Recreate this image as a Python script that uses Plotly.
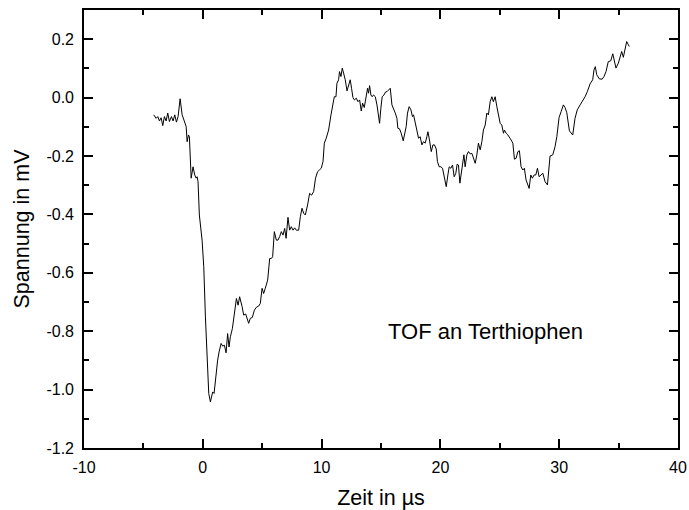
import plotly.graph_objects as go

# Time-of-flight transient measured on terthiophene
zeit_us = [
    -4.13, -3.93, -3.79, -3.65, -3.51, -3.37, -3.23, -3.09, -2.95, -2.81,
    -2.64, -2.50, -2.36, -2.22, -2.08, -1.91, -1.74, -1.52, -1.40, -1.32,
    -1.21, -1.13, -0.98, -0.82, -0.68, -0.56, -0.48, -0.40, -0.29, -0.06,
    0.08, 0.22, 0.36, 0.50, 0.64, 0.72, 0.83, 0.95, 1.06, 1.14,
    1.25, 1.37, 1.54, 1.67, 1.82, 1.96, 2.09, 2.21, 2.32, 2.49,
    2.66, 2.83, 2.97, 3.10, 3.31, 3.44, 3.61, 3.73, 3.86, 4.00,
    4.17, 4.34, 4.51, 4.70, 4.84, 4.99, 5.12, 5.26, 5.46, 5.63,
    5.77, 5.88, 6.02, 6.19, 6.33, 6.47, 6.61, 6.75, 6.89, 7.01,
    7.17, 7.31, 7.45, 7.59, 7.73, 7.87, 8.07, 8.21, 8.35, 8.49,
    8.63, 8.82, 8.99, 9.16, 9.33, 9.49, 9.66, 9.81, 9.97, 10.12,
    10.23, 10.39, 10.59, 10.79, 10.92, 11.07, 11.21, 11.29, 11.43, 11.51,
    11.63, 11.74, 11.85, 11.99, 12.14, 12.30, 12.41, 12.52, 12.64, 12.77,
    12.92, 13.06, 13.20, 13.34, 13.45, 13.59, 13.73, 13.87, 13.95, 14.04,
    14.15, 14.26, 14.37, 14.52, 14.66, 14.77, 14.88, 14.99, 15.10, 15.25,
    15.38, 15.52, 15.69, 15.78, 15.92, 16.05, 16.20, 16.34, 16.42, 16.56,
    16.70, 16.87, 16.98, 17.12, 17.23, 17.37, 17.52, 17.65, 17.74, 17.88,
    18.02, 18.16, 18.30, 18.44, 18.58, 18.72, 18.86, 18.95, 19.08, 19.23,
    19.37, 19.50, 19.65, 19.75, 19.90, 20.04, 20.18, 20.32, 20.49, 20.63,
    20.74, 20.88, 21.02, 21.16, 21.30, 21.41, 21.52, 21.64, 21.75, 21.86,
    21.98, 22.08, 22.23, 22.36, 22.51, 22.65, 22.78, 22.93, 23.07, 23.20,
    23.35, 23.49, 23.62, 23.77, 23.91, 24.04, 24.19, 24.33, 24.46, 24.61,
    24.75, 24.89, 25.03, 25.17, 25.31, 25.39, 25.53, 25.68, 25.81, 25.95,
    26.10, 26.23, 26.37, 26.52, 26.65, 26.79, 26.94, 27.07, 27.21, 27.36,
    27.47, 27.61, 27.74, 27.89, 28.03, 28.17, 28.31, 28.62, 28.81, 29.01,
    29.23, 29.46, 29.65, 29.80, 29.99, 30.16, 30.35, 30.49, 30.64, 30.86,
    31.02, 31.14, 31.33, 31.52, 31.76, 31.98, 32.18, 32.37, 32.60, 32.82,
    32.93, 33.04, 33.16, 33.38, 33.61, 33.77, 33.94, 34.13, 34.34, 34.51,
    34.62, 34.78, 34.98, 35.12, 35.26, 35.40, 35.54, 35.68, 35.82, 35.90,
]

spannung_mv = [
    -0.059, -0.071, -0.065, -0.080, -0.069, -0.096, -0.065, -0.080, -0.053, -0.082,
    -0.065, -0.080, -0.059, -0.084, -0.065, -0.004, -0.059, -0.091, -0.099, -0.151,
    -0.128, -0.134, -0.276, -0.237, -0.265, -0.276, -0.271, -0.288, -0.402, -0.488,
    -0.579, -0.751, -0.899, -1.013, -1.042, -1.025, -1.008, -1.013, -0.968, -0.933,
    -0.899, -0.871, -0.842, -0.851, -0.848, -0.874, -0.808, -0.854, -0.819, -0.791,
    -0.728, -0.688, -0.711, -0.682, -0.716, -0.745, -0.741, -0.756, -0.773, -0.756,
    -0.753, -0.728, -0.718, -0.714, -0.705, -0.653, -0.671, -0.653, -0.625, -0.551,
    -0.551, -0.545, -0.459, -0.488, -0.488, -0.476, -0.459, -0.471, -0.448, -0.482,
    -0.410, -0.454, -0.442, -0.454, -0.446, -0.454, -0.454, -0.408, -0.379, -0.396,
    -0.402, -0.368, -0.328, -0.334, -0.322, -0.276, -0.254, -0.248, -0.242, -0.219,
    -0.156, -0.139, -0.111, -0.059, -0.025, 0.003, 0.003, 0.049, 0.061, 0.089,
    0.072, 0.101, 0.084, 0.061, 0.023, 0.044, 0.061, 0.032, 0.000, -0.008,
    -0.002, -0.014, -0.008, -0.046, -0.019, -0.034, 0.003, 0.032, 0.015, 0.041,
    0.009, 0.003, 0.009, 0.003, -0.025, -0.059, -0.088, -0.036, 0.003, 0.009,
    0.019, 0.021, 0.030, 0.032, -0.025, -0.036, -0.053, -0.071, -0.105, -0.107,
    -0.122, -0.148, -0.122, -0.099, -0.053, -0.031, -0.042, -0.065, -0.059, -0.088,
    -0.111, -0.139, -0.134, -0.162, -0.151, -0.156, -0.134, -0.117, -0.145, -0.185,
    -0.162, -0.162, -0.176, -0.219, -0.237, -0.237, -0.242, -0.271, -0.305, -0.265,
    -0.237, -0.242, -0.231, -0.271, -0.259, -0.228, -0.231, -0.293, -0.265, -0.242,
    -0.196, -0.237, -0.196, -0.185, -0.193, -0.191, -0.208, -0.225, -0.196, -0.156,
    -0.179, -0.151, -0.111, -0.094, -0.053, -0.059, -0.014, 0.003, -0.014, 0.003,
    -0.031, -0.065, -0.088, -0.094, -0.122, -0.111, -0.122, -0.128, -0.139, -0.145,
    -0.156, -0.211, -0.208, -0.185, -0.182, -0.237, -0.248, -0.242, -0.282, -0.299,
    -0.311, -0.265, -0.276, -0.265, -0.265, -0.242, -0.271, -0.259, -0.288, -0.299,
    -0.200, -0.196, -0.168, -0.134, -0.068, -0.048, -0.025, -0.034, -0.052, -0.114,
    -0.121, -0.128, -0.071, -0.042, -0.025, -0.011, 0.003, 0.021, 0.047, 0.061,
    0.095, 0.106, 0.078, 0.064, 0.063, 0.072, 0.089, 0.123, 0.126, 0.150,
    0.129, 0.101, 0.118, 0.141, 0.158, 0.138, 0.164, 0.192, 0.181, 0.175,
]

x_tickvals = [-10, 0, 10, 20, 30, 40]
x_ticktext = ["-10", "0", "10", "20", "30", "40"]
y_tickvals = [-1.2, -1.0, -0.8, -0.6, -0.4, -0.2, 0.0, 0.2]
y_ticktext = ["-1.2", "-1.0", "-0.8", "-0.6", "-0.4", "-0.2", "0.0", "0.2"]

FONT = "Arial, 'Liberation Sans', sans-serif"

fig = go.Figure()
fig.add_trace(go.Scatter(
    x=zeit_us, y=spannung_mv, mode="lines",
    line=dict(color="black", width=1),
    showlegend=False, hoverinfo="skip",
))

axis_common = dict(
    showline=True, linecolor="black", linewidth=1.6, mirror="allticks",
    ticks="inside", ticklen=9, tickwidth=1.6, tickcolor="black",
    showgrid=False, zeroline=False, automargin=False,
    tickfont=dict(family=FONT, size=16, color="black"),
)

fig.update_xaxes(
    range=[-10, 40], tickvals=x_tickvals, ticktext=x_ticktext,
    ticklabelstandoff=4,
    minor=dict(ticks="inside", ticklen=5, tickwidth=1.6, tickcolor="black", dtick=5, tick0=0),
    title=dict(text="Zeit in µs", font=dict(family=FONT, size=21.5, color="black"), standoff=15),
    **axis_common,
)
fig.update_yaxes(
    range=[-1.2, 0.3], tickvals=y_tickvals, ticktext=y_ticktext,
    ticklabelstandoff=5,
    minor=dict(ticks="inside", ticklen=5, tickwidth=1.6, tickcolor="black", dtick=0.1, tick0=0),
    title=dict(text="Spannung in mV", font=dict(family=FONT, size=21.5, color="black"), standoff=11),
    **axis_common,
)

fig.add_annotation(
    x=23.8, y=-0.802, xref="x", yref="y", text="TOF an Terthiophen",
    showarrow=False, font=dict(family=FONT, size=22, color="black"),
)

fig.update_layout(
    width=689, height=510,
    margin=dict(l=84, r=11, t=10, b=62),
    paper_bgcolor="white", plot_bgcolor="white",
)

fig.write_html("out.html")
